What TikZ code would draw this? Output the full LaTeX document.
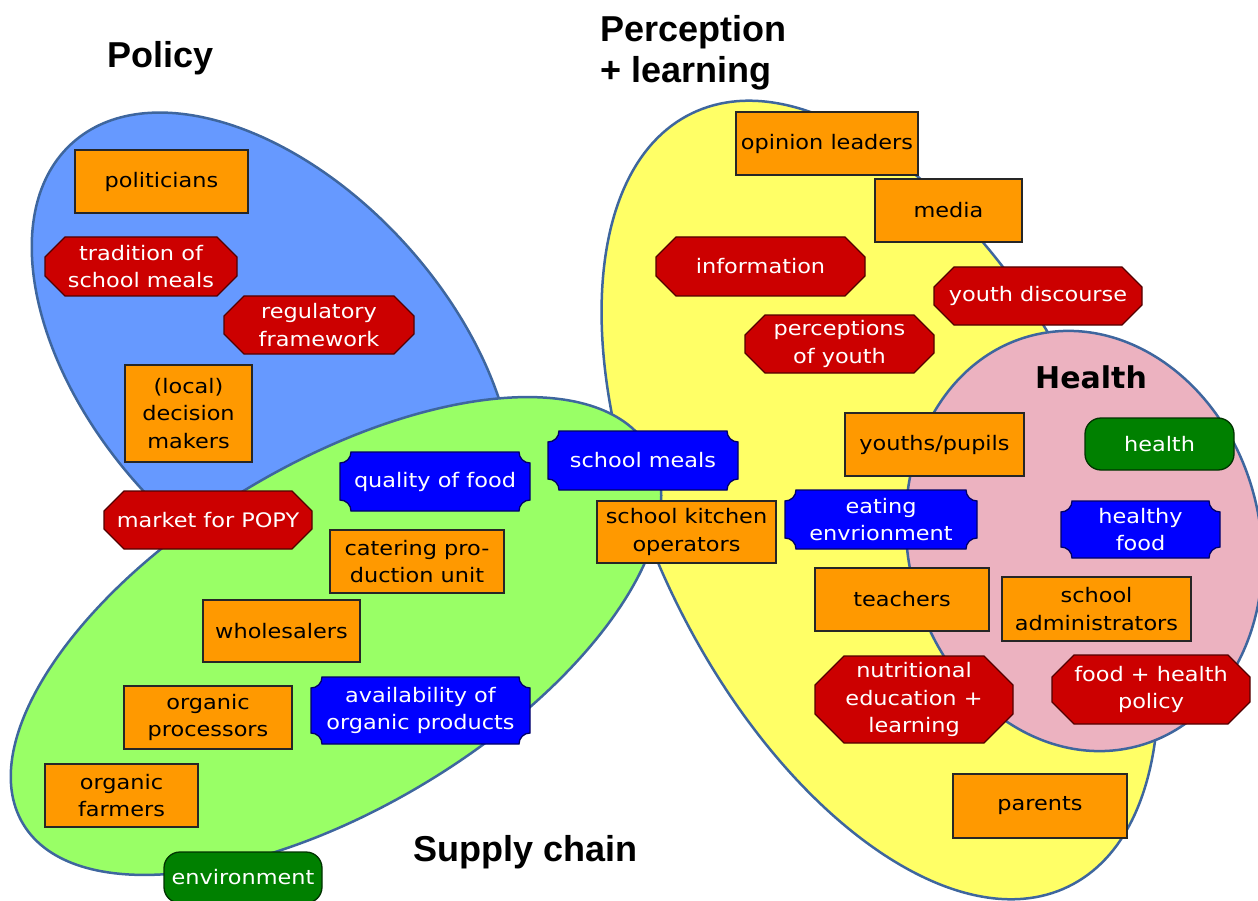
\documentclass[tikz,border=0pt]{standalone}
\usepackage{fontspec}
\newfontfamily\boxfont[FakeStretch=1.12]{DejaVu Sans}
\newfontfamily\titlefont{Liberation Sans}
\newfontfamily\healthfont{DejaVu Sans}
\pgfdeclarelayer{ellipses}
\pgfdeclarelayer{shapes}
\pgfsetlayers{ellipses,shapes,main}
\definecolor{polblue}{RGB}{102,153,255}
\definecolor{supgreen}{RGB}{153,255,102}
\definecolor{peryellow}{RGB}{255,255,102}
\definecolor{helpink}{RGB}{236,178,192}
\definecolor{edgeblue}{RGB}{62,102,158}
\definecolor{boxorange}{RGB}{255,153,0}
\definecolor{boxred}{RGB}{204,0,0}
\definecolor{boxblue}{RGB}{0,0,255}
\definecolor{boxgreen}{RGB}{0,128,0}
\tikzset{
  region/.style={draw=edgeblue, line width=2.5pt},
  txt/.style={font=\boxfont\fontsize{20}{27.5}\selectfont, align=center, inner sep=0pt, outer sep=0pt},
  wh/.style 2 args={minimum width=#1pt, minimum height=#2pt},
  obox/.style={txt, draw=black!85, line width=1.3pt, fill=boxorange, text=black},
  rbox/.style={txt, text=white},
  bbox/.style={txt, text=white},
  gbox/.style={txt, draw=black!60!boxgreen, line width=1.3pt, fill=boxgreen, rounded corners=16pt, text=white},
  redshape/.style={draw=black!60!boxred, line width=1.3pt, fill=boxred},
  blueshape/.style={draw=black!60!boxblue, line width=1.3pt, fill=boxblue},
  title/.style={font=\titlefont\bfseries\fontsize{36}{41}\selectfont, anchor=base west, inner sep=0pt},
}
\begin{document}
\begin{tikzpicture}[x=1pt,y=1pt]
\useasboundingbox (0,0) rectangle (1258,-901);
\clip (0,0) rectangle (1258,-901);

% regions
\begin{pgfonlayer}{ellipses}
\begin{scope}[shift={(880,-500)}, rotate=26]
\draw[region, fill=peryellow] (0,0) ellipse [x radius=228, y radius=430];
\end{scope}
\begin{scope}[shift={(1084,-541)}, rotate=14]
\draw[region, fill=helpink] (0,0) ellipse [x radius=176, y radius=212];
\end{scope}
\begin{scope}[shift={(273,-366)}, rotate=-48]
\draw[region, fill=polblue] (0,0) ellipse [x radius=300, y radius=180];
\end{scope}
\begin{scope}[shift={(336,-636)}, rotate=31]
\draw[region, fill=supgreen] (0,0) ellipse [x radius=365, y radius=172];
\end{scope}
\end{pgfonlayer}

% titles
\node[title] (tpolicy) at (107,-68) {Policy};
\node[title] (tperc) at (600,-42) {Perception};
\node[title] (tlearn) at (600,-83) {+ learning};
\node[title] (tsupply) at (413,-861) {Supply chain};
\node[font=\healthfont\bfseries\fontsize{30}{36}\selectfont, anchor=base west, inner sep=0pt] (thealth) at (1035,-388) {Health};

% orange boxes
\node[obox, wh={173}{63}] (politicians) at (161.5,-181.5) {politicians};
\node[obox, wh={127}{97}] (decision) at (188.5,-413.5) {(local)\\decision\\makers};
\node[obox, wh={174}{63}] (catering) at (417,-561.5) {catering pro-\\duction unit};
\node[obox, wh={157}{62}] (wholesalers) at (281.5,-631) {wholesalers};
\node[obox, wh={168}{63}] (processors) at (208,-717.5) {organic\\processors};
\node[obox, wh={153}{63}] (farmers) at (121.5,-795.5) {organic\\farmers};
\node[obox, wh={179}{62}] (kitchen) at (686.5,-532) {school kitchen\\operators};
\node[obox, wh={182}{63}] (opinion) at (827,-143.5) {opinion leaders};
\node[obox, wh={147}{63}] (media) at (948.5,-210.5) {media};
\node[obox, wh={179}{63}] (youths) at (934.5,-444.5) {youths/pupils};
\node[obox, wh={174}{63}] (teachers) at (902,-599.5) {teachers};
\node[obox, wh={189}{64}] (admin) at (1096.5,-609) {school\\administrators};
\node[obox, wh={174}{64}] (parents) at (1040,-806) {parents};

% red octagons
\node[rbox, wh={192}{59}] (trad) at (141,-266.5) {tradition of\\school meals};
\node[rbox, wh={190}{58}] (reg) at (319,-325) {regulatory\\framework};
\node[rbox, wh={208}{58}] (popy) at (208,-520) {market for POPY};
\node[rbox, wh={209}{59}] (info) at (760.5,-266.5) {information};
\node[rbox, wh={208}{58}] (ydis) at (1038,-296) {youth discourse};
\node[rbox, wh={189}{58}] (perc) at (839.5,-344) {perceptions\\of youth};
\node[rbox, wh={198}{87}] (nutr) at (914,-699.5) {nutritional\\education +\\learning};
\node[rbox, wh={198}{69}] (fhp) at (1151,-689.5) {food + health\\policy};

% blue notched boxes
\node[bbox, wh={190}{59}] (qual) at (435,-481.5) {quality of food};
\node[bbox, wh={190}{59}] (smeal) at (643,-460.5) {school meals};
\node[bbox, wh={219}{67}] (avail) at (420.5,-710.5) {availability of\\organic products};
\node[bbox, wh={192}{59}] (eat) at (881,-519.5) {eating\\envrionment};
\node[bbox, wh={159}{57}] (hfood) at (1140.5,-529.5) {healthy\\food};

% green rounded boxes
\node[gbox, wh={158}{51}] (env) at (243,-877.5) {environment};
\node[gbox, wh={149}{52}] (health) at (1159.5,-444) {health};

\begin{pgfonlayer}{shapes}
\foreach \n/\c in {trad/20, reg/20, popy/20, info/20, ydis/20, perc/20, nutr/29, fhp/22} {
  \draw[redshape] ([xshift=\c pt]\n.north west) -- ([xshift=-\c pt]\n.north east)
    -- ([yshift=-\c pt]\n.north east) -- ([yshift=\c pt]\n.south east)
    -- ([xshift=-\c pt]\n.south east) -- ([xshift=\c pt]\n.south west)
    -- ([yshift=\c pt]\n.south west) -- ([yshift=-\c pt]\n.north west) -- cycle;
}
\foreach \n in {qual, smeal, avail, eat, hfood} {
  \draw[blueshape] ([xshift=11pt]\n.north west) -- ([xshift=-11pt]\n.north east)
    arc[start angle=180, end angle=270, radius=11pt] -- ([yshift=11pt]\n.south east)
    arc[start angle=90, end angle=180, radius=11pt] -- ([xshift=11pt]\n.south west)
    arc[start angle=0, end angle=90, radius=11pt] -- ([yshift=-11pt]\n.north west)
    arc[start angle=270, end angle=360, radius=11pt] -- cycle;
}
\end{pgfonlayer}
\end{tikzpicture}
\end{document}
